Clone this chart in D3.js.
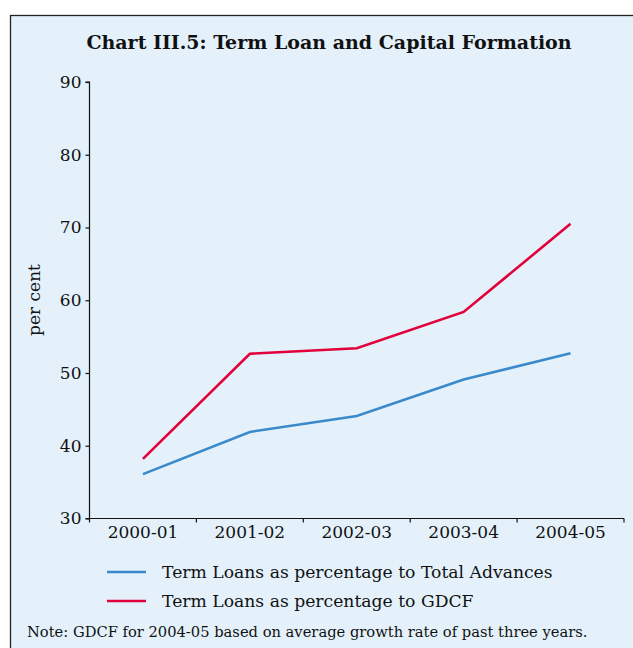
<!DOCTYPE html>
<html>
<head>
<meta charset="utf-8">
<script src="https://cdn.jsdelivr.net/npm/d3@7"></script>
<style>
  html, body { margin: 0; padding: 0; background: #ffffff; }
  svg { display: block; }
  text { font-family: "DejaVu Serif", "Liberation Serif", serif; fill: #111; }
</style>
</head>
<body>
<script>
// Data
const years = ["2000-01", "2001-02", "2002-03", "2003-04", "2004-05"];
const loansToAdvances = [36.1, 41.9, 44.1, 49.1, 52.7];
const loansToGDCF = [38.2, 52.65, 53.4, 58.4, 70.5];
const yTicks = [30, 40, 50, 60, 70, 80, 90];
const seriesNames = ["Term Loans as percentage to Total Advances", "Term Loans as percentage to GDCF"];
const seriesColors = ["#3a8acb", "#e2003a"];

const W = 633, H = 648;
const svg = d3.select("body").append("svg").attr("width", W).attr("height", H);

// Panel background with frame
svg.append("rect")
  .attr("x", 10.5).attr("y", 15.5)
  .attr("width", 640).attr("height", 650)
  .attr("fill", "#e4f1fb").attr("stroke", "#222").attr("stroke-width", 1.3);

// Title
svg.append("text")
  .attr("x", 329).attr("y", 49)
  .attr("text-anchor", "middle")
  .style("font-size", "19px").style("font-weight", "bold")
  .text("Chart III.5: Term Loan and Capital Formation");

const x = d3.scaleBand().domain(years).range([89.5, 624]);
const y = d3.scaleLinear().domain([30, 90]).range([518.5, 82]);

// Y axis
const yAxis = svg.append("g")
  .attr("transform", "translate(89.5,0)")
  .call(d3.axisLeft(y).tickValues(yTicks).tickSize(4).tickPadding(4));
yAxis.selectAll("text").style("font-size", "17px").attr("font-family", null);
yAxis.selectAll("line, path").attr("stroke", "#111").attr("stroke-width", 1.2);
yAxis.select(".domain").attr("d", `M-4,${y(90)}H0V${y(30)}H-4`);

// X axis
const xAxis = svg.append("g")
  .attr("transform", `translate(0,${y(30)})`)
  .call(d3.axisBottom(x).tickSize(0).tickPadding(7));
xAxis.selectAll("text").style("font-size", "17px").attr("font-family", null);
xAxis.select(".domain").attr("d", `M89.5,0H624`).attr("stroke", "#111").attr("stroke-width", 1.2);
// boundary ticks between categories
const bounds = years.map(d => x(d)).concat([x(years[years.length - 1]) + x.bandwidth()]);
xAxis.selectAll(".bt").data(bounds).enter().append("line")
  .attr("x1", d => d).attr("x2", d => d)
  .attr("y1", 0).attr("y2", 4)
  .attr("stroke", "#111").attr("stroke-width", 1.2);

// Y label
svg.append("text")
  .attr("transform", "translate(40,300) rotate(-90)")
  .attr("text-anchor", "middle")
  .style("font-size", "17px")
  .text("per cent");

// Lines
const line = d3.line()
  .x((d, i) => x(years[i]) + x.bandwidth() / 2)
  .y(d => y(d));

[loansToAdvances, loansToGDCF].forEach((s, i) => {
  svg.append("path")
    .datum(s)
    .attr("d", line)
    .attr("fill", "none")
    .attr("stroke", seriesColors[i])
    .attr("stroke-width", 2.6)
    .attr("stroke-linejoin", "miter");
});

// Legend
const legend = svg.append("g");
seriesNames.forEach((name, i) => {
  const ly = 572 + i * 29;
  legend.append("line")
    .attr("x1", 107).attr("x2", 146)
    .attr("y1", ly).attr("y2", ly)
    .attr("stroke", seriesColors[i]).attr("stroke-width", 2.6);
  legend.append("text")
    .attr("x", 162).attr("y", ly + 6)
    .style("font-size", "17.2px")
    .text(name);
});

// Note
svg.append("text")
  .attr("x", 27).attr("y", 637)
  .style("font-size", "14.7px")
  .text("Note: GDCF for 2004-05 based on average growth rate of past three years.");
</script>
</body>
</html>
